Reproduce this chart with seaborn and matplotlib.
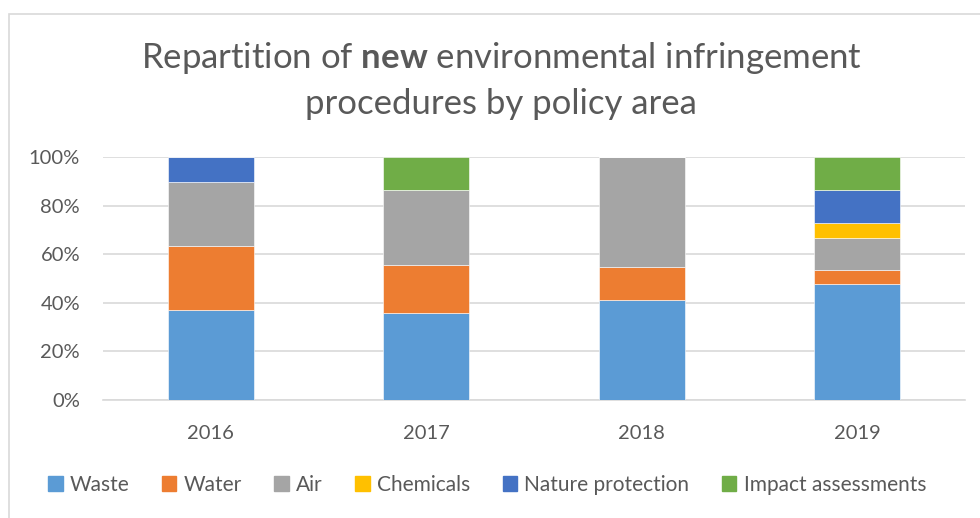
import matplotlib
matplotlib.use("Agg")
import matplotlib.pyplot as plt
import seaborn as sns
import pandas as pd
import numpy as np

years = ["2016", "2017", "2018", "2019"]
waste = [37.2, 35.9, 41.0, 47.6]
water = [26.2, 19.8, 13.6, 6.0]
air = [26.3, 30.7, 45.4, 12.9]
chemicals = [0.0, 0.0, 0.0, 6.2]
nature = [10.3, 0.0, 0.0, 13.8]
impact = [0.0, 13.6, 0.0, 13.5]

series_names = ["Waste", "Water", "Air", "Chemicals", "Nature protection", "Impact assessments"]
series_vals = [waste, water, air, chemicals, nature, impact]
colors = ["#5B9BD5", "#ED7D31", "#A5A5A5", "#FFC000", "#4472C4", "#70AD47"]

sns.set_theme(style="white")
plt.rcParams['font.family'] = ['Lato', 'DejaVu Sans']
plt.rcParams['mathtext.fontset'] = 'custom'
plt.rcParams['mathtext.rm'] = 'Lato'
plt.rcParams['mathtext.bf'] = 'Lato:bold'
text_color = "#595959"

fig = plt.figure(figsize=(9.8, 5.18), dpi=100)
ax = fig.add_axes([103/980, 1-400/518, (965-103)/980, (400-157)/518])

bottom = np.zeros(len(years))
handles = []
for name, vals, col in zip(series_names, series_vals, colors):
    df = pd.DataFrame({"year": years, "value": vals})
    sns.barplot(data=df, x="year", y="value", color=col, bottom=bottom, saturation=1,
                width=0.4, ax=ax, edgecolor="white", linewidth=0.4, zorder=3)
    handles.append(plt.Rectangle((0, 0), 1, 1, color=col))
    bottom = bottom + np.array(vals)

ax.set_ylim(0, 100)
ax.set_xlim(-0.5, 3.5)
ax.set_yticks([0, 20, 40, 60, 80, 100])
ax.set_yticklabels(["0%", "20%", "40%", "60%", "80%", "100%"])
ax.yaxis.grid(True, color="#D9D9D9", linewidth=1.2, zorder=0)
ax.set_axisbelow(True)
for s in ["top", "right", "left"]:
    ax.spines[s].set_visible(False)
ax.spines["bottom"].set_color("#D9D9D9")
ax.spines["bottom"].set_linewidth(1.2)
ax.set_xlabel("")
ax.set_ylabel("")
ax.tick_params(axis="both", length=0, labelsize=14.5, colors=text_color)
ax.tick_params(axis="y", pad=16.5)
ax.tick_params(axis="x", pad=18)

# title
fig.text(501/980, 1-58/518, r"Repartition of $\mathbf{new}$ environmental infringement",
         ha="center", va="center", fontsize=25, color=text_color)
fig.text(501/980, 1-104/518, "procedures by policy area",
         ha="center", va="center", fontsize=25, color=text_color)

leg = fig.legend(handles, series_names, loc="center", bbox_to_anchor=(487/980, 1-485/518),
                 ncol=6, frameon=False, fontsize=15, handlelength=0.7, handleheight=0.7,
                 handletextpad=0.35, columnspacing=1.55, labelcolor=text_color)

# chart border
border = plt.Rectangle((9/980, -0.05), 1.2, 1 - 13.5/518 + 0.05, transform=fig.transFigure,
                       fill=False, edgecolor="#D9D9D9", linewidth=1.2)
fig.add_artist(border)

fig.savefig("out.png", dpi=100)
